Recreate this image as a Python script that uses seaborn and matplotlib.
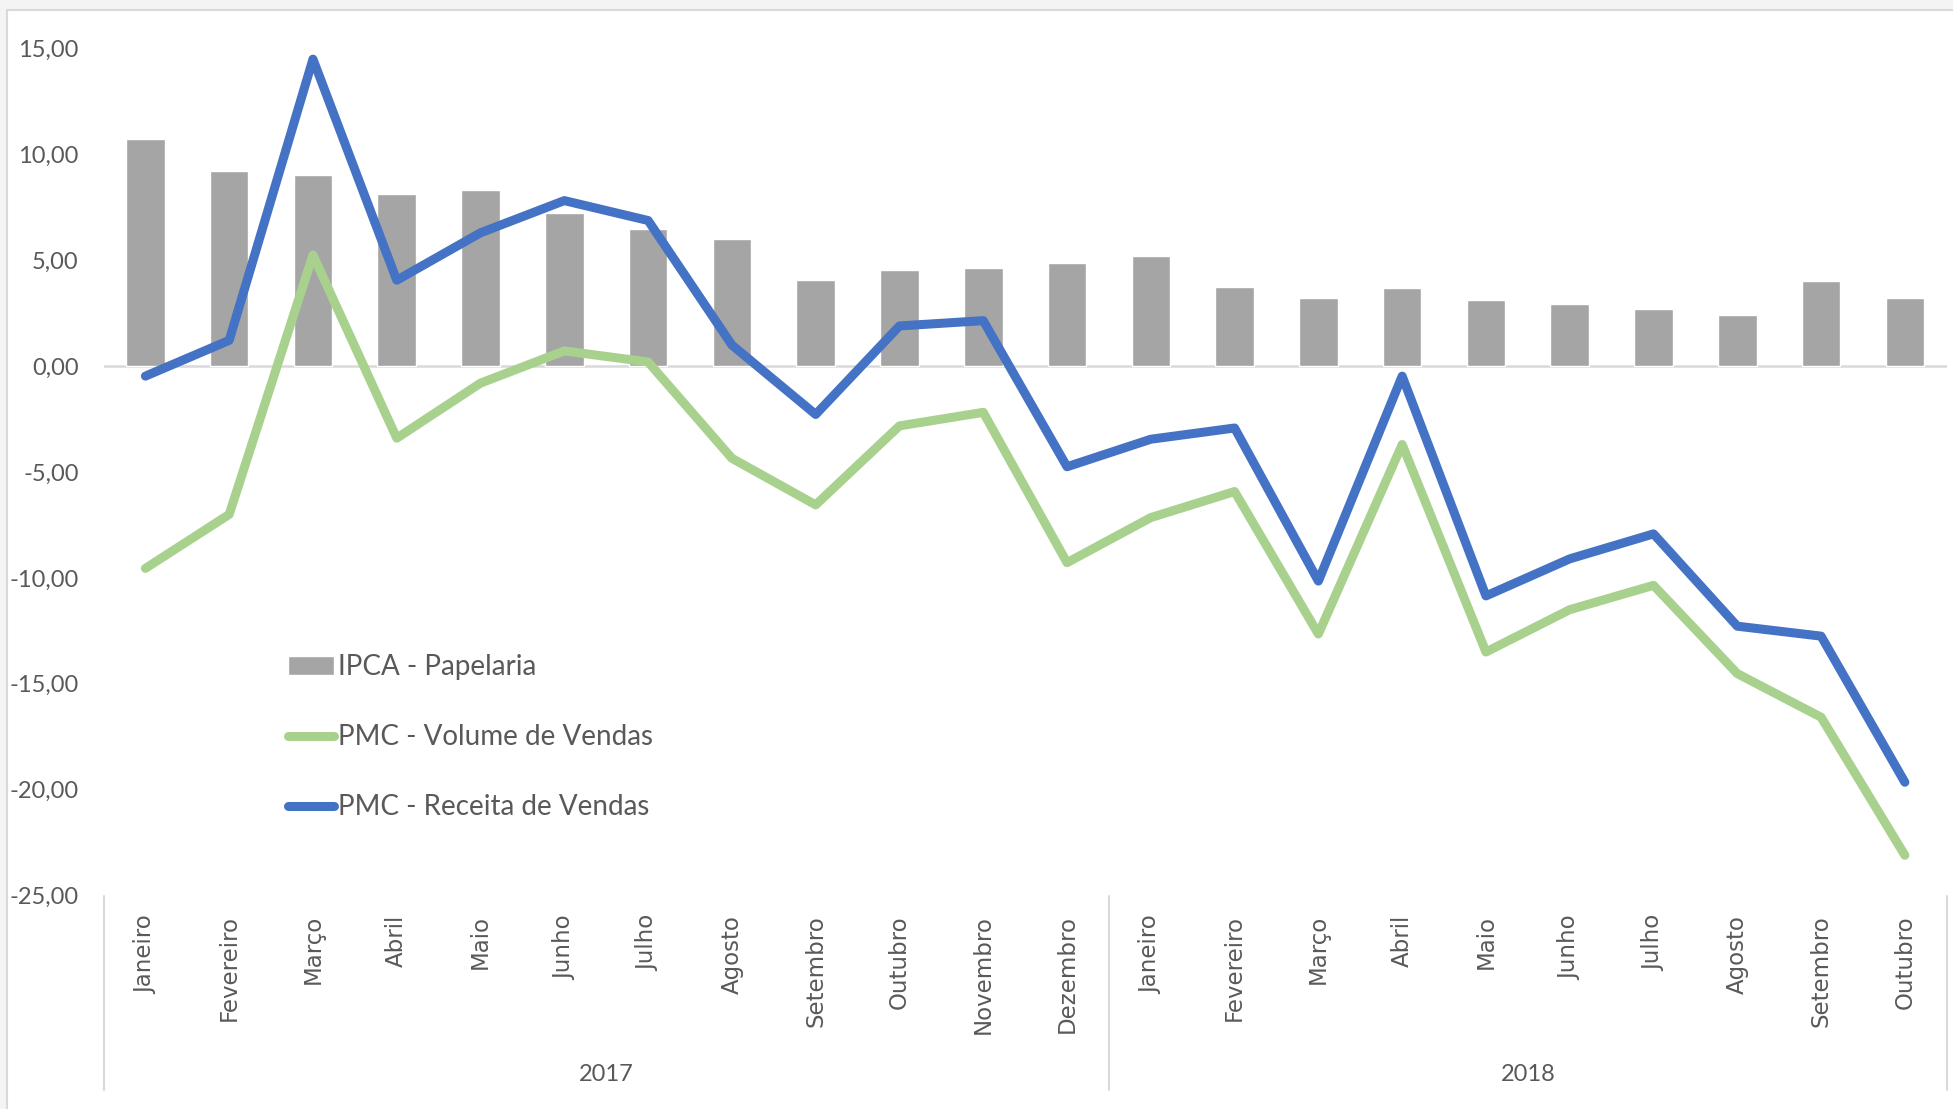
import seaborn as sns
import pandas as pd
import matplotlib.pyplot as plt
from matplotlib.patches import Rectangle
from matplotlib.transforms import blended_transform_factory

# categorias (meses) e anos
meses = ['Janeiro', 'Fevereiro', 'Março', 'Abril', 'Maio', 'Junho', 'Julho', 'Agosto',
         'Setembro', 'Outubro', 'Novembro', 'Dezembro',
         'Janeiro', 'Fevereiro', 'Março', 'Abril', 'Maio', 'Junho', 'Julho', 'Agosto',
         'Setembro', 'Outubro']
anos = ['2017', '2018']
meses_por_ano = [12, 10]

# series
ipca = [10.75, 9.22, 9.05, 8.12, 8.30, 7.22, 6.50, 6.02, 4.08, 4.55, 4.65, 4.85,
        5.20, 3.75, 3.22, 3.68, 3.14, 2.95, 2.68, 2.40, 4.04, 3.22]
volume = [-9.55, -7.00, 5.25, -3.40, -0.80, 0.72, 0.20, -4.35, -6.55, -2.82, -2.18, -9.28,
          -7.15, -5.92, -12.65, -3.70, -13.50, -11.50, -10.35, -14.52, -16.58, -23.10]
receita = [-0.47, 1.22, 14.50, 4.06, 6.30, 7.82, 6.88, 1.00, -2.28, 1.90, 2.15, -4.75,
           -3.45, -2.92, -10.15, -0.47, -10.85, -9.10, -7.92, -12.28, -12.75, -19.65]

df = pd.DataFrame({'pos': range(len(meses)), 'ipca': ipca, 'volume': volume, 'receita': receita})

sns.set_style('white')
plt.rcParams['font.family'] = ['Lato', 'DejaVu Sans']
txt = '#595959'
grid = '#d9d9d9'

fig = plt.figure(figsize=(19.53, 11.09), dpi=100, facecolor='#f4f4f4')
fig.patches.append(Rectangle((7 / 1953, -0.1), 1.1, 1.1 - 10 / 1109, transform=fig.transFigure,
                             facecolor='white', edgecolor=grid, lw=1.5, zorder=-10))
ax = fig.add_axes([0.053, 0.1925, 0.9438, 0.7637])
ax.set_facecolor('none')

sns.barplot(data=df, x='pos', y='ipca', color='#a5a5a5', width=0.46, saturation=1,
            label='IPCA - Papelaria', ax=ax, zorder=2)
sns.lineplot(data=df, x='pos', y='volume', color='#a9d18e', lw=6.5, label='PMC - Volume de Vendas',
             ax=ax, zorder=3, solid_capstyle='round', solid_joinstyle='round', clip_on=False)
sns.lineplot(data=df, x='pos', y='receita', color='#4472c4', lw=6.5, label='PMC - Receita de Vendas',
             ax=ax, zorder=4, solid_capstyle='round', solid_joinstyle='round', clip_on=False)

ax.axhline(0, color=grid, lw=1.8, zorder=1)

ax.set_xlim(-0.5, len(meses) - 0.5)
ax.set_ylim(-25, 15)
ax.set_xticks(range(len(meses)))
ax.set_xticklabels(meses, rotation=90, fontfamily='DejaVu Sans', fontsize=16.5, color=txt)
yt = list(range(-25, 16, 5))
ax.set_yticks(yt)
ax.set_yticklabels([f'{v:.2f}'.replace('.', ',') for v in yt], fontsize=17, color=txt)
ax.tick_params(axis='both', length=0)
ax.tick_params(axis='x', pad=14)
ax.tick_params(axis='y', pad=18)
ax.set_xlabel('')
ax.set_ylabel('')
for s in ax.spines.values():
    s.set_visible(False)

# eixo de categorias em dois niveis
tr = blended_transform_factory(ax.transData, ax.transAxes)
limites = [-0.5]
for n in meses_por_ano:
    limites.append(limites[-1] + n)
for x in limites:
    ax.plot([x, x], [0, -0.23], transform=tr, clip_on=False, color=grid, lw=1.5)
for i, ano in enumerate(anos):
    ax.text((limites[i] + limites[i + 1]) / 2, -0.211, ano, transform=tr, ha='center', va='center',
            fontsize=17, color=txt)

handles, labels = ax.get_legend_handles_labels()
ordem = ['IPCA - Papelaria', 'PMC - Volume de Vendas', 'PMC - Receita de Vendas']
hmap = dict(zip(labels, handles))
ax.legend([hmap[l] for l in ordem], ordem, loc='upper left', bbox_to_anchor=(0.1, 0.285),
          frameon=False, fontsize=20, handlelength=1.67, handletextpad=0.14, labelspacing=1.59,
          labelcolor=txt, borderaxespad=0, borderpad=0)

plt.savefig('out.png', dpi=100, facecolor=fig.get_facecolor())
